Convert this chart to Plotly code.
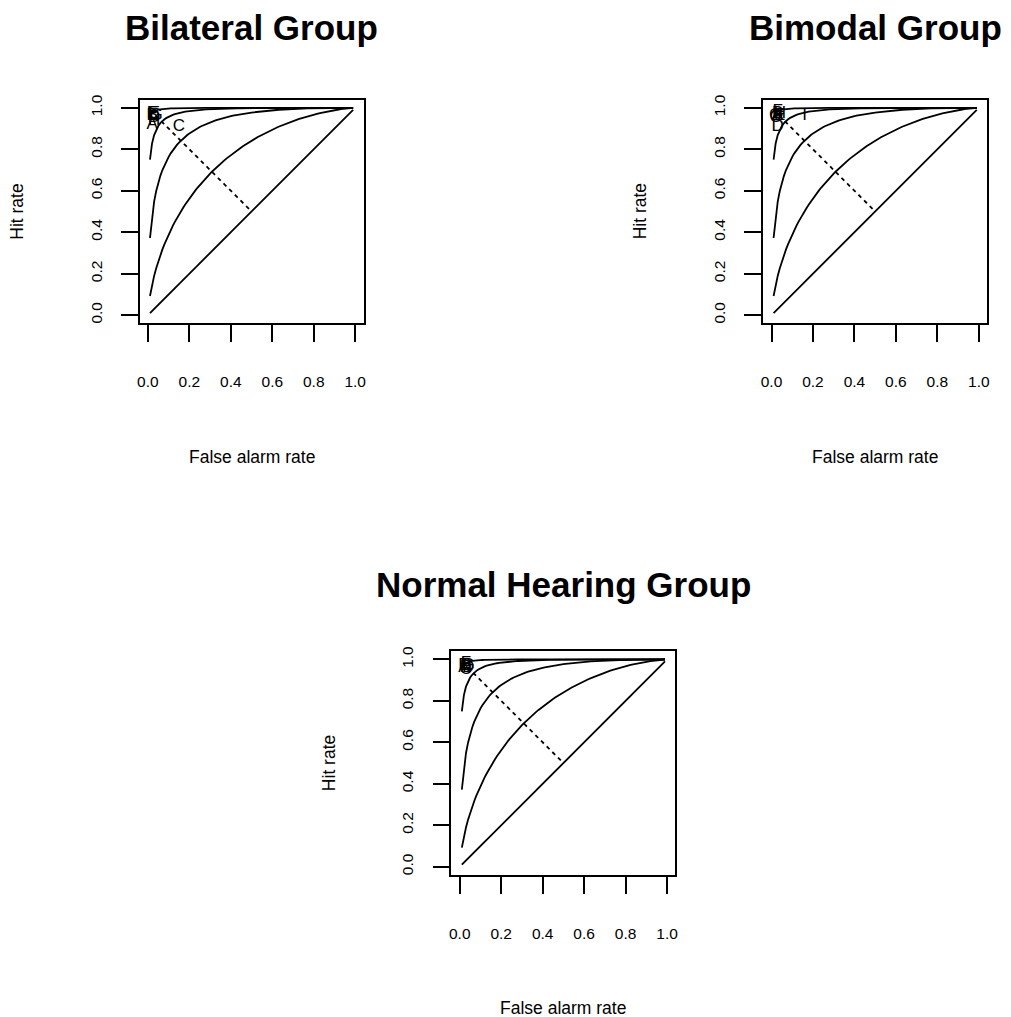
import plotly.graph_objects as go
from statistics import NormalDist

# Isosensitivity (ROC) curves for equal-variance signal detection, one per d'
d_primes = [0, 1, 2, 3, 4]
fa_grid = [round(0.01 * k, 2) for k in range(1, 100)]

# Negative diagonal (unbiased criterion) drawn dashed
neg_diag_fa = [0.01, 0.5]
neg_diag_hit = [0.99, 0.5]

# Per-listener operating points, plotted as letters
bilateral_labels = ["A", "B", "C", "D", "E", "F", "G", "H"]
bilateral_fa = [0.02, 0.02, 0.15, 0.03, 0.03, 0.02, 0.04, 0.03]
bilateral_hit = [0.92, 0.96, 0.91, 0.95, 0.97, 0.97, 0.96, 0.94]

bimodal_labels = ["A", "B", "C", "D", "E", "F", "G", "H", "I"]
bimodal_fa = [0.03, 0.03, 0.02, 0.03, 0.04, 0.03, 0.02, 0.04, 0.16]
bimodal_hit = [0.96, 0.97, 0.95, 0.91, 0.96, 0.98, 0.96, 0.97, 0.96]

normal_labels = ["A", "B", "C", "D", "E", "F", "G", "H"]
normal_fa = [0.02, 0.03, 0.03, 0.04, 0.02, 0.03, 0.04, 0.03]
normal_hit = [0.96, 0.97, 0.95, 0.96, 0.97, 0.98, 0.97, 0.96]

tick_vals = [0.0, 0.2, 0.4, 0.6, 0.8, 1.0]
tick_text = ["0.0", "0.2", "0.4", "0.6", "0.8", "1.0"]

FONT = "Liberation Sans, Arial, Helvetica, sans-serif"
W, H = 1011, 1017

nd = NormalDist()


def roc_hits(d):
    return [nd.cdf(nd.inv_cdf(f) + d) for f in fa_grid]


# title, labels, fa, hit, (box left px, box top px), title offset above box
panels = [
    ("Bilateral Group", bilateral_labels, bilateral_fa, bilateral_hit, (138.3, 95), 72),
    ("Bimodal Group", bimodal_labels, bimodal_fa, bimodal_hit, (765, 95), 72),
    ("Normal Hearing Group", normal_labels, normal_fa, normal_hit, (451.7, 649.3), 67),
]
BOX = 225  # plotting-region side in px

fig = go.Figure()
layout = dict(
    width=W, height=H, margin=dict(l=0, r=0, t=0, b=0),
    paper_bgcolor="white", plot_bgcolor="white", showlegend=False,
    font=dict(family=FONT, color="black"),
)
annotations = []

for i, (title, labels, fa, hit, (left, top), toff) in enumerate(panels):
    n = "" if i == 0 else str(i + 1)
    xa, ya = "x" + n, "y" + n
    line = dict(color="black", width=1.8)
    for d in d_primes:
        fig.add_trace(go.Scatter(x=fa_grid, y=roc_hits(d), mode="lines",
                                 line=line, xaxis=xa, yaxis=ya, hoverinfo="skip"))
    fig.add_trace(go.Scatter(x=neg_diag_fa, y=neg_diag_hit, mode="lines",
                             line=dict(color="black", width=1.8, dash="4px,4px"),
                             xaxis=xa, yaxis=ya, hoverinfo="skip"))
    fig.add_trace(go.Scatter(x=fa, y=hit, mode="text", text=labels,
                             textposition="middle center",
                             textfont=dict(family=FONT, size=17, color="black"),
                             xaxis=xa, yaxis=ya))

    xdom = [left / W, (left + BOX) / W]
    ydom = [1 - (top + BOX) / H, 1 - top / H]
    common = dict(range=[-0.04, 1.04], tickvals=tick_vals, ticktext=tick_text,
                  ticks="outside", ticklen=17, tickwidth=1.6, tickcolor="black",
                  showline=True, mirror=True, linecolor="black", linewidth=1.8,
                  showgrid=False, zeroline=False,
                  tickfont=dict(family=FONT, size=15.5, color="black"),
                  fixedrange=True)
    layout["xaxis" + n] = dict(common, domain=xdom, anchor=ya, ticklabelstandoff=26)
    layout["yaxis" + n] = dict(common, domain=ydom, anchor=xa, tickangle=-90,
                               ticklabelstandoff=13)

    xd, yd = xa + " domain", ya + " domain"
    annotations.append(dict(text="<b>" + title + "</b>", xref=xd, yref=yd,
                            x=0.5, y=1 + toff / BOX, xanchor="center", yanchor="middle",
                            showarrow=False, font=dict(family=FONT, size=35)))
    annotations.append(dict(text="False alarm rate", xref=xd, yref=yd,
                            x=0.5, y=-134 / BOX, xanchor="center", yanchor="middle",
                            showarrow=False, font=dict(family=FONT, size=17.5)))
    annotations.append(dict(text="Hit rate", xref=xd, yref=yd,
                            x=-123 / BOX, y=0.5, xanchor="center", yanchor="middle",
                            textangle=-90, showarrow=False,
                            font=dict(family=FONT, size=17.5)))

layout["annotations"] = annotations
fig.update_layout(**layout)
fig.write_html("out.html")
